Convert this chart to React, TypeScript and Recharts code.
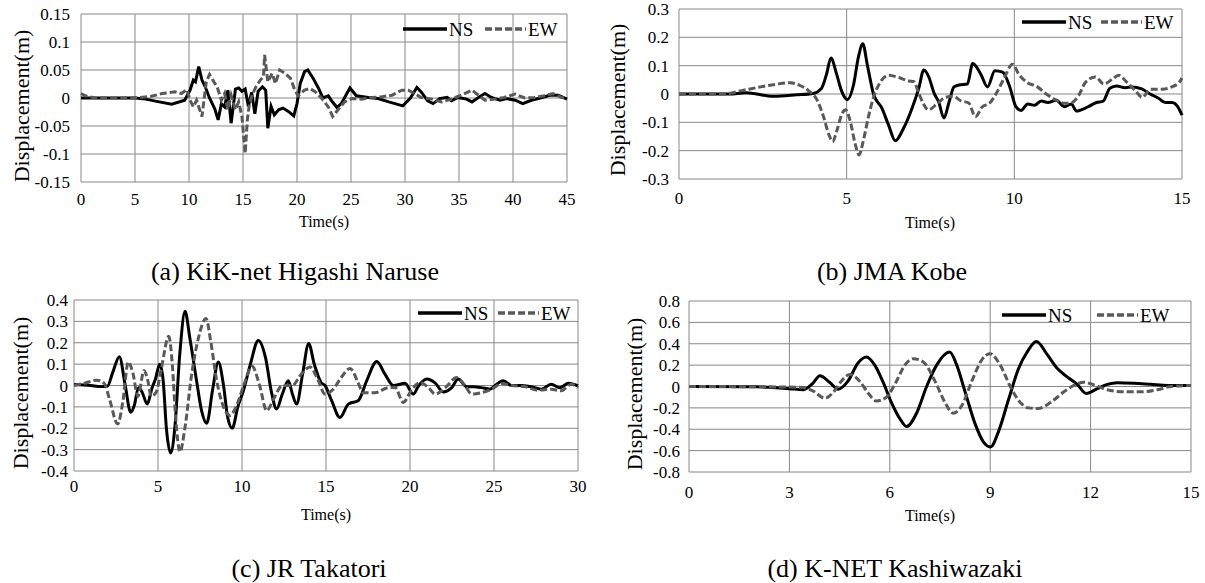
import { CartesianGrid, Legend, Line, LineChart, XAxis, YAxis } from "recharts";

const FONT = '"Liberation Serif", "Times New Roman", serif';
const GRID = "#888888";
const NS_COLOR = "#000000";
const EW_COLOR = "#595959";
const EW_DASH = "7 3";

type Pt = [number, number];

// (a) KiK-net Higashi Naruse, time (s) vs displacement (m)
const kikNs: Pt[] = [
  [0, 0], [5, 0], [6, -0.002], [7, -0.006], [8.4, -0.011], [9.6, -0.004], [10.1, 0.014], [10.4, 0.032],
  [10.6, 0.029], [10.9, 0.056], [11.2, 0.032], [11.5, 0.02], [11.9, 0.0], [12.4, -0.02], [12.7, -0.039],
  [13.0, -0.01], [13.3, -0.016], [13.6, 0.014], [13.9, -0.045], [14.3, 0.016], [14.6, 0.018], [14.9, 0.012],
  [15.2, 0.016], [15.5, -0.015], [15.8, 0.01], [16.1, -0.028], [16.4, 0.012], [16.8, 0.02], [17.1, 0.014],
  [17.3, -0.054], [17.6, -0.015], [17.9, -0.03], [18.3, -0.021], [18.7, -0.018], [19.2, -0.024], [19.7, -0.032],
  [20.0, -0.01], [20.3, 0.026], [20.7, 0.047], [21.0, 0.05], [21.5, 0.035], [22.0, 0.017], [22.4, 0.0],
  [22.9, 0.004], [23.2, -0.005], [23.7, -0.017], [24.1, -0.01], [24.9, 0.018], [25.5, 0.004], [26.6, 0.001],
  [27.5, -0.001], [28.5, -0.007], [29.8, -0.014], [30.5, 0.0], [31.1, 0.019], [31.5, 0.011], [32.1, -0.005],
  [32.6, -0.01], [33.2, -0.001], [33.9, 0.001], [34.3, -0.005], [34.9, 0.001], [35.7, -0.002], [36.2, -0.007],
  [36.8, 0.001], [37.4, 0.008], [38.0, 0.001], [38.8, -0.004], [39.4, -0.001], [40.2, -0.004], [40.9, -0.01],
  [41.7, -0.004], [42.7, 0.001], [43.4, 0.005], [44.2, 0.005], [45, -0.002],
];
const kikEw: Pt[] = [
  [0, 0.008], [0.4, 0.004], [1.3, 0.0], [3, 0.0], [5, 0.0], [6.5, 0.003], [7.5, 0.008], [8.7, 0.011],
  [9.3, 0.008], [9.8, 0.015], [10.1, -0.004], [10.4, -0.016], [10.7, -0.004], [11.2, -0.033], [11.6, 0.029],
  [11.9, 0.042], [12.3, 0.029], [12.6, 0.02], [13.0, -0.004], [13.3, 0.008], [13.6, -0.021], [13.9, 0.005],
  [14.3, -0.021], [14.6, -0.007], [14.9, -0.033], [15.2, -0.099], [15.4, -0.039], [15.6, -0.01], [15.9, 0.008],
  [16.2, 0.02], [16.6, 0.032], [16.9, 0.038], [17.0, 0.077], [17.3, 0.029], [17.7, 0.044], [18.0, 0.026],
  [18.4, 0.05], [18.9, 0.044], [19.4, 0.035], [19.8, 0.014], [20.1, 0.004], [20.7, 0.014], [21.2, 0.017],
  [21.7, 0.011], [22.3, -0.001], [22.9, -0.016], [23.3, -0.033], [23.8, -0.021], [24.4, -0.007], [25.1, -0.001],
  [26.0, -0.002], [26.9, 0.001], [27.8, 0.002], [28.8, 0.005], [29.7, 0.014], [30.3, 0.014], [30.9, 0.008],
  [31.5, 0.001], [32.5, -0.002], [33.4, -0.007], [34.3, -0.002], [35.2, 0.005], [36.2, 0.014], [36.8, 0.005],
  [37.4, -0.004], [38.3, -0.002], [39.2, 0.001], [40.2, 0.007], [41.1, 0.0], [42.0, 0.001], [42.9, 0.004],
  [43.7, 0.008], [44.5, 0.001], [45, 0.0],
];

// (b) JMA Kobe
const kobeNs: Pt[] = [
  [0, 0], [1.5, 0], [2.0, 0.004], [2.8, -0.008], [3.5, -0.003], [4.0, 0.002], [4.25, 0.02], [4.4, 0.07],
  [4.53, 0.127], [4.7, 0.07], [4.85, 0.01], [5.02, -0.02], [5.2, 0.03], [5.35, 0.13], [5.48, 0.177], [5.62, 0.1],
  [5.8, 0.0], [6.05, -0.05], [6.25, -0.11], [6.45, -0.165], [6.7, -0.12], [6.95, -0.05], [7.15, 0.02],
  [7.3, 0.085], [7.45, 0.06], [7.6, 0.005], [7.75, -0.03], [7.9, -0.085], [8.05, -0.03], [8.2, 0.025],
  [8.35, 0.032], [8.6, 0.035], [8.76, 0.108], [9.0, 0.07], [9.2, 0.025], [9.42, 0.082], [9.65, 0.077],
  [9.85, 0.03], [10.05, -0.045], [10.2, -0.058], [10.4, -0.035], [10.6, -0.04], [10.8, -0.025], [11.0, -0.03],
  [11.25, -0.022], [11.5, -0.045], [11.7, -0.035], [11.85, -0.06], [12.2, -0.045], [12.45, -0.03],
  [12.65, -0.025], [12.85, 0.02], [13.05, 0.028], [13.3, 0.022], [13.5, 0.025], [13.8, 0.018], [14.05, 0.0],
  [14.3, -0.015], [14.5, -0.03], [14.7, -0.03], [14.9, -0.05], [15.0, -0.075],
];
const kobeEw: Pt[] = [
  [0, 0], [1.35, 0], [1.87, 0.012], [2.47, 0.026], [2.87, 0.034], [3.31, 0.04], [3.61, 0.03], [3.86, 0.012],
  [4.11, -0.02], [4.31, -0.08], [4.46, -0.14], [4.58, -0.168], [4.71, -0.128], [4.86, -0.07], [4.97, -0.056],
  [5.1, -0.093], [5.25, -0.174], [5.37, -0.215], [5.5, -0.163], [5.65, -0.08], [5.8, -0.012], [6.0, 0.041],
  [6.25, 0.066], [6.55, 0.058], [6.85, 0.046], [7.0, 0.044], [7.14, 0.006], [7.29, -0.035], [7.44, -0.056],
  [7.69, -0.035], [7.94, -0.012], [8.19, -0.008], [8.39, -0.023], [8.64, -0.032], [8.84, -0.08], [9.04, -0.046],
  [9.28, -0.03], [9.48, 0.006], [9.68, 0.052], [9.95, 0.105], [10.13, 0.07], [10.38, 0.041], [10.68, 0.026],
  [10.93, 0.002], [11.22, -0.02], [11.52, -0.033], [11.72, -0.03], [11.92, -0.005], [12.12, 0.041],
  [12.42, 0.06], [12.67, 0.035], [12.92, 0.052], [13.11, 0.066], [13.36, 0.041], [13.61, 0.012],
  [13.81, -0.012], [14.06, 0.017], [14.41, 0.017], [14.71, 0.026], [14.91, 0.04], [15.0, 0.056],
];

// (c) JR Takatori
const takatoriNs: Pt[] = [
  [0, 0.005], [1, 0.0], [1.6, -0.005], [2.0, -0.002], [2.3, 0.06], [2.7, 0.135], [3.05, 0.0], [3.37, -0.125],
  [3.6, -0.09], [3.83, -0.01], [4.05, -0.03], [4.36, -0.087], [4.65, -0.01], [4.85, 0.03], [5.1, 0.1],
  [5.3, 0.03], [5.5, -0.2], [5.75, -0.316], [6.0, -0.2], [6.3, 0.15], [6.61, 0.347], [6.9, 0.22], [7.3, 0.02],
  [7.6, -0.12], [7.9, -0.177], [8.25, -0.02], [8.59, 0.11], [8.9, 0.0], [9.15, -0.15], [9.42, -0.2],
  [9.75, -0.1], [10.1, -0.02], [10.5, 0.1], [10.97, 0.211], [11.4, 0.13], [11.75, -0.03], [12.06, -0.11],
  [12.4, -0.04], [12.76, 0.022], [13.0, -0.04], [13.25, -0.087], [13.6, 0.05], [13.97, 0.196], [14.3, 0.1],
  [14.7, 0.015], [14.94, 0.0], [15.33, -0.07], [15.83, -0.15], [16.33, -0.087], [16.93, -0.07], [17.42, 0.022],
  [18.02, 0.112], [18.51, 0.053], [19.01, 0.0], [19.7, 0.01], [20.2, -0.04], [20.5, -0.003], [21.0, 0.03],
  [21.49, 0.012], [21.98, -0.03], [22.48, -0.01], [22.87, 0.03], [23.37, -0.006], [23.77, -0.006],
  [24.26, -0.01], [24.76, -0.017], [25.06, 0.0], [25.56, 0.022], [26.05, 0.0], [26.65, 0.0], [27.14, -0.005],
  [27.84, -0.017], [28.4, 0.006], [28.93, -0.01], [29.43, 0.01], [30, -0.002],
];
const takatoriEw: Pt[] = [
  [0, 0.0], [0.6, 0.01], [1.35, 0.025], [1.8, 0.01], [2.1, -0.06], [2.6, -0.18], [2.9, -0.08], [3.23, 0.11],
  [3.5, 0.06], [3.8, -0.05], [4.17, 0.07], [4.4, 0.02], [4.6, -0.05], [4.9, -0.03], [5.2, 0.08], [5.64, 0.23],
  [5.85, 0.1], [6.05, -0.15], [6.31, -0.31], [6.6, -0.2], [7.0, 0.05], [7.4, 0.22], [7.86, 0.313], [8.15, 0.2],
  [8.5, 0.02], [8.9, -0.1], [9.29, -0.14], [9.7, -0.09], [10.1, 0.0], [10.6, 0.09], [11.05, 0.0],
  [11.47, -0.118], [11.9, -0.06], [12.4, 0.0], [13.0, 0.0], [13.5, 0.05], [14.05, 0.087], [14.5, 0.03],
  [14.94, -0.04], [15.4, -0.02], [15.93, 0.04], [16.43, 0.08], [16.93, 0.01], [17.2, -0.034], [17.9, -0.034],
  [18.7, -0.01], [19.1, -0.008], [19.6, -0.079], [20.1, -0.02], [20.6, 0.014], [21.1, -0.01], [21.5, -0.04],
  [22.1, -0.01], [22.78, 0.037], [23.27, 0.0], [23.67, -0.04], [24.26, -0.033], [24.86, -0.017], [25.46, 0.009],
  [26.05, 0.0], [26.8, -0.005], [27.6, -0.022], [28.4, -0.017], [29.0, -0.025], [29.6, 0.006], [30, -0.01],
];

// (d) K-NET Kashiwazaki
const kashiwazakiNs: Pt[] = [
  [0, 0], [2, -0.003], [2.5, -0.01], [3.0, -0.02], [3.41, -0.03], [3.7, 0.03], [3.91, 0.1], [4.2, 0.04],
  [4.46, -0.025], [4.75, 0.05], [5.05, 0.22], [5.3, 0.276], [5.55, 0.2], [5.8, 0.04], [6.05, -0.15], [6.3, -0.3],
  [6.5, -0.375], [6.8, -0.25], [7.1, 0.0], [7.4, 0.2], [7.79, 0.322], [8.0, 0.2], [8.25, -0.05], [8.55, -0.35],
  [8.8, -0.52], [9.01, -0.565], [9.25, -0.42], [9.55, -0.12], [9.85, 0.17], [10.1, 0.32], [10.38, 0.42],
  [10.7, 0.3], [11.0, 0.17], [11.3, 0.09], [11.6, 0.02], [11.87, -0.065], [12.2, -0.02], [12.5, 0.02],
  [12.8, 0.035], [13.3, 0.03], [13.8, 0.02], [14.3, 0.01], [15, 0.01],
];
const kashiwazakiEw: Pt[] = [
  [0, 0], [3.0, -0.005], [3.4, -0.01], [3.7, -0.04], [4.06, -0.11], [4.35, -0.04], [4.55, 0.05], [4.81, 0.112],
  [5.1, 0.05], [5.35, -0.06], [5.6, -0.136], [5.9, -0.1], [6.2, 0.05], [6.45, 0.2], [6.7, 0.26], [7.0, 0.23],
  [7.35, 0.05], [7.65, -0.15], [7.89, -0.25], [8.15, -0.18], [8.45, 0.05], [8.75, 0.25], [8.99, 0.307],
  [9.3, 0.2], [9.6, 0.0], [9.9, -0.15], [10.15, -0.2], [10.43, -0.205], [10.8, -0.15], [11.2, -0.05],
  [11.5, 0.01], [11.8, 0.04], [12.1, 0.015], [12.5, -0.03], [13.0, -0.05], [13.5, -0.05], [14.0, -0.03],
  [14.4, 0.0], [15, 0.01],
];

const ticksA_x = [0, 5, 10, 15, 20, 25, 30, 35, 40, 45];
const ticksA_y = [-0.15, -0.1, -0.05, 0, 0.05, 0.1, 0.15];
const ticksB_x = [0, 5, 10, 15];
const ticksB_y = [-0.3, -0.2, -0.1, 0, 0.1, 0.2, 0.3];
const ticksC_x = [0, 5, 10, 15, 20, 25, 30];
const ticksC_y = [-0.4, -0.3, -0.2, -0.1, 0, 0.1, 0.2, 0.3, 0.4];
const ticksD_x = [0, 3, 6, 9, 12, 15];
const ticksD_y = [-0.8, -0.6, -0.4, -0.2, 0, 0.2, 0.4, 0.6, 0.8];

const toRows = (pts: Pt[]) => pts.map(([t, v]) => ({ t, v }));

type PanelSpec = {
  caption: string;
  ns: Pt[];
  ew: Pt[];
  xTicks: number[];
  yTicks: number[];
  curve: "linear" | "monotone";
  box: { left: number; top: number; width: number; height: number };
  plot: { x0: number; x1: number; y0: number; y1: number };
  xTickGap: number;
  yTickGap: number;
  legend: { x: number; y: number; ewGap: number };
  yTitle: [number, number];
  time: [number, number];
  cap: [number, number];
};

function YTitle({ px, py }: { px: number; py: number }) {
  return (
    <text
      x={px}
      y={py}
      transform={`rotate(-90, ${px}, ${py})`}
      textAnchor="middle"
      dominantBaseline="central"
      fontSize={22}
      fontFamily={FONT}
      fill="#000"
    >
      Displacement(m)
    </text>
  );
}

function XTitles({ time, cap, caption }: { time: [number, number]; cap: [number, number]; caption: string }) {
  return (
    <g fontFamily={FONT} fill="#000">
      <text x={time[0]} y={time[1]} textAnchor="middle" dominantBaseline="central" fontSize={16}>
        Time(s)
      </text>
      <text x={cap[0]} y={cap[1]} textAnchor="middle" dominantBaseline="central" fontSize={26}>
        {caption}
      </text>
    </g>
  );
}

function LegendKey({ ewGap }: { ewGap: number }) {
  return (
    <svg width={190} height={24} style={{ display: "block", overflow: "visible" }}>
      <g fontFamily={FONT} fontSize={19} fill="#000">
        <line x1={0} x2={44} y1={12} y2={12} stroke={NS_COLOR} strokeWidth={3.5} />
        <text x={46} y={12} dominantBaseline="central">NS</text>
        <line x1={ewGap} x2={ewGap + 41} y1={12} y2={12} stroke={EW_COLOR} strokeWidth={3.5} strokeDasharray={EW_DASH} />
        <text x={ewGap + 43} y={12} dominantBaseline="central">EW</text>
      </g>
    </svg>
  );
}

function Panel({ spec }: { spec: PanelSpec }) {
  const { box, plot } = spec;
  const xh = 30;
  const loc = (p: [number, number]): [number, number] => [p[0] - box.left, p[1] - box.top];
  const tickStyle = { fill: "#000", fontSize: 17, fontFamily: FONT };
  return (
    <div style={{ position: "absolute", left: box.left, top: box.top }}>
      <LineChart
        width={box.width}
        height={box.height}
        margin={{
          top: plot.y0 - box.top,
          right: box.left + box.width - plot.x1,
          bottom: box.top + box.height - plot.y1 - xh,
          left: 0,
        }}
      >
        <CartesianGrid stroke={GRID} strokeWidth={1} />
        <XAxis
          type="number"
          dataKey="t"
          domain={[spec.xTicks[0], spec.xTicks[spec.xTicks.length - 1]]}
          ticks={spec.xTicks}
          interval={0}
          height={xh}
          axisLine={false}
          tickLine={false}
          tickSize={0}
          tickMargin={spec.xTickGap - 6}
          tick={tickStyle}
          label={<XTitles time={loc(spec.time)} cap={loc(spec.cap)} caption={spec.caption} />}
        />
        <YAxis
          type="number"
          domain={[spec.yTicks[0], spec.yTicks[spec.yTicks.length - 1]]}
          ticks={spec.yTicks}
          interval={0}
          width={plot.x0 - box.left}
          axisLine={false}
          tickLine={false}
          tickSize={0}
          tickMargin={spec.yTickGap}
          tick={tickStyle}
          tickFormatter={(v: number) => String(v)}
          label={<YTitle px={spec.yTitle[0] - box.left} py={spec.yTitle[1] - box.top} />}
        />
        <Legend
          layout="vertical"
          align="center"
          verticalAlign="middle"
          wrapperStyle={{
            left: spec.legend.x - box.left,
            top: spec.legend.y - box.top - 12,
            width: 190,
            height: 24,
            margin: 0,
          }}
          content={() => <LegendKey ewGap={spec.legend.ewGap} />}
        />
        <Line
          data={toRows(spec.ns)}
          dataKey="v"
          name="NS"
          type={spec.curve}
          stroke={NS_COLOR}
          strokeWidth={3}
          dot={false}
          activeDot={false}
          isAnimationActive={false}
        />
        <Line
          data={toRows(spec.ew)}
          dataKey="v"
          name="EW"
          type={spec.curve}
          stroke={EW_COLOR}
          strokeWidth={3}
          strokeDasharray={EW_DASH}
          dot={false}
          activeDot={false}
          isAnimationActive={false}
        />
      </LineChart>
    </div>
  );
}

const panels: PanelSpec[] = [
  {
    caption: "(a) KiK-net Higashi Naruse",
    ns: kikNs,
    ew: kikEw,
    xTicks: ticksA_x,
    yTicks: ticksA_y,
    curve: "linear",
    box: { left: 0, top: 0, width: 600, height: 290 },
    plot: { x0: 81, x1: 567, y0: 14, y1: 182 },
    xTickGap: 17,
    yTickGap: 11,
    legend: { x: 403, y: 29, ewGap: 82 },
    yTitle: [21, 106],
    time: [324, 221],
    cap: [295, 271],
  },
  {
    caption: "(b) JMA Kobe",
    ns: kobeNs,
    ew: kobeEw,
    xTicks: ticksB_x,
    yTicks: ticksB_y,
    curve: "monotone",
    box: { left: 600, top: 0, width: 605, height: 290 },
    plot: { x0: 679, x1: 1182, y0: 9, y1: 179 },
    xTickGap: 19,
    yTickGap: 10,
    legend: { x: 1022, y: 22, ewGap: 79 },
    yTitle: [617, 100],
    time: [930, 222],
    cap: [892, 271],
  },
  {
    caption: "(c) JR Takatori",
    ns: takatoriNs,
    ew: takatoriEw,
    xTicks: ticksC_x,
    yTicks: ticksC_y,
    curve: "monotone",
    box: { left: 0, top: 290, width: 600, height: 293 },
    plot: { x0: 74, x1: 578, y0: 300, y1: 471 },
    xTickGap: 15,
    yTickGap: 6,
    legend: { x: 418, y: 313, ewGap: 80 },
    yTitle: [20, 393],
    time: [326, 514],
    cap: [309, 568],
  },
  {
    caption: "(d) K-NET Kashiwazaki",
    ns: kashiwazakiNs,
    ew: kashiwazakiEw,
    xTicks: ticksD_x,
    yTicks: ticksD_y,
    curve: "monotone",
    box: { left: 600, top: 290, width: 605, height: 293 },
    plot: { x0: 689, x1: 1191, y0: 301, y1: 472 },
    xTickGap: 20,
    yTickGap: 9,
    legend: { x: 1002, y: 315, ewGap: 95 },
    yTitle: [634, 394],
    time: [930, 515],
    cap: [895, 568],
  },
];

export default function App() {
  return (
    <div
      style={{
        position: "absolute",
        left: 0,
        top: 0,
        width: 1205,
        height: 583,
        background: "#fff",
        fontFamily: FONT,
      }}
    >
      {panels.map((p) => (
        <Panel key={p.caption} spec={p} />
      ))}
    </div>
  );
}
